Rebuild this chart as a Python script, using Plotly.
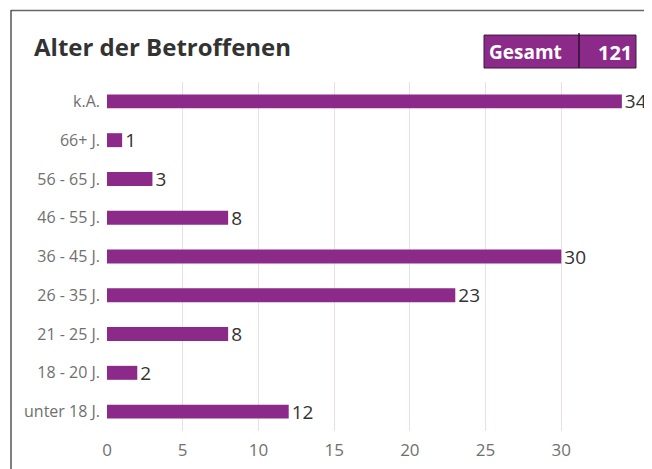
import plotly.graph_objects as go

categories = ["unter 18 J.", "18 - 20 J.", "21 - 25 J.", "26 - 35 J.", "36 - 45 J.",
              "46 - 55 J.", "56 - 65 J.", "66+ J.", "k.A."]
values = [12, 2, 8, 23, 30, 8, 3, 1, 34]
x_ticks = [0, 5, 10, 15, 20, 25, 30]
title_text = "Alter der Betroffenen"
total_label = "Gesamt"
total_value = 121

OFF = 8  # page body margin offset
W, H = 652 - OFF, 469 - OFF
L, R = 107 - OFF, 637 - OFF
T, B = 82 - OFF, 431.5 - OFF
bar_color = "#8c2a8a"

fig = go.Figure(go.Bar(
    y=categories, x=values, orientation="h",
    marker=dict(color=bar_color, line=dict(width=0)),
    width=0.36,
    text=[str(v) for v in values], textposition="outside",
    constraintext="none",
    textfont=dict(family="Open Sans", size=19, color="#333333"),
    cliponaxis=False,
))

def px(x):
    return (x - OFF - L) / (R - L)

def py(y):
    return (B - (y - OFF)) / (B - T)

shapes = [
    dict(type="line", xref="paper", yref="paper", x0=px(11), x1=px(660), y0=py(10.5), y1=py(10.5),
         line=dict(color="#666666", width=1.5)),
    dict(type="line", xref="paper", yref="paper", x0=px(11), x1=px(11), y0=py(10), y1=py(480),
         line=dict(color="#555555", width=1.5)),
    dict(type="rect", xref="paper", yref="paper", x0=px(484), x1=px(636), y0=py(35), y1=py(68),
         fillcolor=bar_color, line=dict(color="#3a1a3a", width=1)),
    dict(type="line", xref="paper", yref="paper", x0=px(579), x1=px(579), y0=py(33), y1=py(68),
         line=dict(color="#2a1030", width=1.5)),
]

annotations = [
    dict(text=f"<b>{title_text}</b>", xref="paper", yref="paper", x=px(32), y=py(46),
         xanchor="left", yanchor="middle", showarrow=False,
         font=dict(family="Open Sans", size=24, color="#333333")),
    dict(text=f"<b>{total_label}</b>", xref="paper", yref="paper", x=px(487), y=py(52),
         xanchor="left", yanchor="middle", showarrow=False,
         font=dict(family="Open Sans", size=19, color="#ffffff")),
    dict(text=f"<b>{total_value}</b>", xref="paper", yref="paper", x=px(634), y=py(52),
         xanchor="right", yanchor="middle", showarrow=False,
         font=dict(family="Open Sans", size=20, color="#ffffff")),
]

fig.update_layout(
    width=W, height=H,
    margin=dict(l=L, r=W - R, t=T, b=H - B, pad=0, autoexpand=False),
    paper_bgcolor="white", plot_bgcolor="white",
    showlegend=False,
    shapes=shapes, annotations=annotations,
    xaxis=dict(range=[0, 35], tickvals=x_ticks, showgrid=True, gridcolor="#ecdfe0", gridwidth=1,
               zeroline=False, showline=False, ticks="", automargin=False,
               ticklabelstandoff=7,
               tickfont=dict(family="Open Sans", size=17, color="#707070")),
    yaxis=dict(categoryorder="array", categoryarray=categories, range=[-0.5, 8.5],
               showgrid=False, zeroline=False, showline=False, ticks="", automargin=False,
               ticklabelstandoff=6,
               tickfont=dict(family="Open Sans", size=16, color="#707070")),
)

fig.write_html("out.html")
